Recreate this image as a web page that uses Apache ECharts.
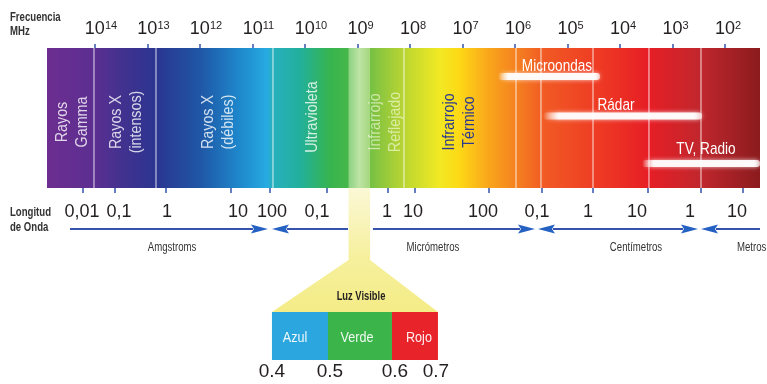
<!DOCTYPE html>
<html>
<head>
<meta charset="utf-8">
<title>Espectro electromagnético</title>
<script src="https://cdn.jsdelivr.net/npm/echarts@6/dist/echarts.min.js"></script>
<style>
  html, body { margin: 0; padding: 0; background: #fff; }
  #chart { width: 767px; height: 384px; }
</style>
</head>
<body>
<div id="chart"></div>
<script>
// eje x: exponente de la frecuencia en MHz (10^n), invertido
const freqExponents = [14, 13, 12, 11, 10, 9, 8, 7, 6, 5, 4, 3, 2]
const spectrumRange = [14.914, 1.333]

const bandNames = ['Rayos\nGamma', 'Rayos X\n(intensos)', 'Rayos X\n(débiles)', 'Ultravioleta', 'Infrarrojo\nReflejado', 'Infrarrojo\nTérmico']
const bandCenters = [14.438, 13.41, 11.657, 9.867, 8.476, 7.067]
const bandDividers = [14.019, 12.838, 10.61, 8.114, 5.981, 5.505, 4.514, 3.448, 2.457]

const radioNames = ['Microondas', 'Rádar', 'TV, Radio']
const radioStart = [6.324, 5.467, 3.581]
const radioEnd = [4.381, 2.438, 1.333]
const radioLabelPos = [5.2, 4.076, 2.362]

const waveLabels = ['0,01', '0,1', '1', '10', '100', '0,1', '1', '10', '100', '0,1', '1', '10', '1', '10']
const waveLabelPos = [14.248, 13.543, 12.629, 11.276, 10.629, 9.771, 8.438, 7.943, 6.61, 5.581, 4.61, 3.676, 2.667, 1.771]
const waveTickPos = [14.234, 13.619, 12.648, 11.415, 10.667, 9.587, 8.419, 7.905, 6.495, 5.486, 4.514, 3.467, 2.457, 1.657]

const unitNames = ['Amgstroms', 'Micrómetros', 'Centímetros', 'Metros']
const unitPos = [12.533, 7.562, 3.695, 1.771]
const arrowFrom = [14.476, 10.629, 8.705, 5.562, 2.457]
const arrowTo = [10.705, 9.181, 5.619, 2.514, 1.333]
const arrowHeads = [[0, 1], [1, 0], [0, 1], [1, 1], [1, 0]]

const visibleBand = [9.17, 8.76]
const visibleNames = ['Azul', 'Verde', 'Rojo']
const visibleEdges = [10.629, 9.562, 8.343, 7.467]
const visibleLabelPos = [10.19, 9.01, 7.829]
const visibleTicks = ['0.4', '0.5', '0.6', '0.7']
const visibleTickPos = [10.629, 9.524, 8.286, 7.505]
const visibleTitlePos = 8.933

// filas (alto de cada rejilla)
const BAR_H = 140
const LOW_H = 196
const ROW = {
  band: 74, ultra: 69,
  radioLabel: [18, 57, 101], radioBar: [28.5, 68, 115.5],
  wave: 24, arrow: 41, unit: 60,
  stripEnd: 72, boxTop: 124, boxBottom: 172, boxLabel: 150, visTick: 184, luz: 109
}

const NARROW = '"Liberation Sans Narrow", "Liberation Sans", Arial, sans-serif'
const SANS = '"Liberation Sans", Arial, sans-serif'
const BLUE = '#3553ad'
const SQUEEZE = 0.84

const chart = echarts.init(document.getElementById('chart'), null, { renderer: 'canvas' })

function textSeries(grid, texts, xs, ys, style, opts) {
  opts = opts || {}
  return {
    type: 'custom',
    xAxisIndex: grid,
    yAxisIndex: grid,
    silent: true,
    z: 20,
    data: xs.map((x, i) => [x, Array.isArray(ys) ? ys[i] : ys]),
    renderItem(params, api) {
      const p = api.coord([api.value(0), api.value(1)])
      const st = Object.assign({
        text: texts[params.dataIndex],
        align: 'center',
        verticalAlign: 'middle'
      }, style)
      if (opts.fills) st.fill = opts.fills[params.dataIndex]
      return {
        type: 'text',
        x: p[0],
        y: p[1],
        rotation: opts.rotation || 0,
        scaleX: opts.scaleX || 1,
        style: st
      }
    }
  }
}

const spectrumStops = [
  [0, '#6c2d90'], [0.066, '#5c2f91'], [0.102, '#44318f'], [0.152, '#2b3590'],
  [0.214, '#1f56a5'], [0.27, '#1e88cc'], [0.309, '#27aae1'], [0.316, '#27b0bf'],
  [0.355, '#22b09c'], [0.397, '#37b44e'], [0.432, '#4cb848'], [0.467, '#8cc63f'],
  [0.509, '#c4d92e'], [0.55, '#f1e924'], [0.578, '#fdd916'], [0.62, '#f9a51b'],
  [0.657, '#f58220'], [0.698, '#f15a24'], [0.775, '#ee3a24'], [0.845, '#e61e25'],
  [0.915, '#c1272d'], [1, '#8b1b1e']
].map(s => ({ offset: s[0], color: s[1] }))

const bandFills = ['rgba(255,255,255,0.8)', 'rgba(255,255,255,0.8)', 'rgba(255,255,255,0.8)',
  'rgba(255,255,255,0.8)', 'rgba(255,255,235,0.6)', '#2b3990']

const series = [
  // barra del espectro
  {
    type: 'custom', xAxisIndex: 0, yAxisIndex: 0, silent: true, z: 1,
    data: [spectrumRange],
    renderItem(params, api) {
      const a = api.coord([api.value(0), 0])
      const b = api.coord([api.value(1), BAR_H])
      return {
        type: 'rect',
        shape: { x: a[0], y: a[1], width: b[0] - a[0], height: b[1] - a[1] },
        style: { fill: new echarts.graphic.LinearGradient(0, 0, 1, 0, spectrumStops) }
      }
    }
  },
  // franja visible dentro de la barra
  {
    type: 'custom', xAxisIndex: 0, yAxisIndex: 0, silent: true, z: 2,
    data: [visibleBand],
    renderItem(params, api) {
      const a = api.coord([api.value(0), 0])
      const b = api.coord([api.value(1), BAR_H])
      return {
        type: 'rect',
        shape: { x: a[0], y: a[1], width: b[0] - a[0], height: b[1] - a[1] },
        style: {
          fill: new echarts.graphic.LinearGradient(0, 0, 1, 0, [
            { offset: 0, color: 'rgba(245,250,215,0.4)' },
            { offset: 0.5, color: 'rgba(245,250,215,0.65)' },
            { offset: 1, color: 'rgba(245,250,215,0.4)' }
          ])
        }
      }
    }
  },
  // divisiones blancas
  {
    type: 'custom', xAxisIndex: 0, yAxisIndex: 0, silent: true, z: 3,
    data: bandDividers.map(x => [x]),
    renderItem(params, api) {
      const a = api.coord([api.value(0), 0])
      const b = api.coord([api.value(0), BAR_H])
      return {
        type: 'line',
        shape: { x1: a[0], y1: a[1], x2: b[0], y2: b[1] },
        style: { stroke: 'rgba(255,255,255,0.7)', lineWidth: 1.2 }
      }
    }
  },
  // barras de microondas, rádar y TV
  {
    type: 'custom', xAxisIndex: 0, yAxisIndex: 0, silent: true, z: 4,
    data: radioStart.map((x, i) => [x, radioEnd[i], ROW.radioBar[i]]),
    renderItem(params, api) {
      const a = api.coord([api.value(0), api.value(2)])
      const b = api.coord([api.value(1), api.value(2)])
      return {
        type: 'rect',
        shape: { x: a[0], y: a[1] - 3.5, width: b[0] - a[0], height: 7, r: 3 },
        style: {
          fill: new echarts.graphic.LinearGradient(0, 0, 1, 0, [
            { offset: 0, color: 'rgba(255,255,255,0)' },
            { offset: 0.1, color: 'rgba(255,255,255,0.9)' },
            { offset: 0.95, color: 'rgba(255,255,255,0.95)' },
            { offset: 1, color: 'rgba(255,255,255,0.6)' }
          ]),
          shadowBlur: 4,
          shadowColor: 'rgba(255,255,255,0.8)'
        }
      }
    }
  },
  textSeries(0, radioNames, radioLabelPos, ROW.radioLabel,
    { fill: '#fff', fontSize: 17, fontFamily: NARROW }, { scaleX: 0.8 }),
  textSeries(0, bandNames, bandCenters,
    bandCenters.map((x, i) => i === 3 ? ROW.ultra : ROW.band),
    { fontSize: 17, fontFamily: NARROW, lineHeight: 20 },
    { rotation: Math.PI / 2, scaleX: SQUEEZE, fills: bandFills }),

  // franja amarilla y trapecio de la luz visible
  {
    type: 'custom', xAxisIndex: 1, yAxisIndex: 1, silent: true, z: 1,
    data: [[visibleBand[0], visibleBand[1], visibleEdges[0], visibleEdges[3]]],
    renderItem(params, api) {
      const pts = [
        api.coord([api.value(0), 0]),
        api.coord([api.value(1), 0]),
        api.coord([api.value(1), ROW.stripEnd]),
        api.coord([api.value(3), ROW.boxTop]),
        api.coord([api.value(2), ROW.boxTop]),
        api.coord([api.value(0), ROW.stripEnd])
      ]
      return {
        type: 'polygon',
        shape: { points: pts },
        style: {
          fill: new echarts.graphic.LinearGradient(0, 0, 0, 1, [
            { offset: 0, color: '#fbf8d6' },
            { offset: 0.55, color: '#f6f09e' },
            { offset: 1, color: '#f4ec86' }
          ])
        }
      }
    }
  },
  // cajas azul / verde / rojo
  {
    type: 'custom', xAxisIndex: 1, yAxisIndex: 1, silent: true, z: 2,
    data: visibleNames.map((n, i) => [visibleEdges[i], visibleEdges[i + 1]]),
    renderItem(params, api) {
      const colors = ['#2ba6de', '#3bb54a', '#e8232a']
      const a = api.coord([api.value(0), ROW.boxTop])
      const b = api.coord([api.value(1), ROW.boxBottom])
      return {
        type: 'rect',
        shape: { x: a[0], y: a[1], width: b[0] - a[0], height: b[1] - a[1] },
        style: { fill: colors[params.dataIndex] }
      }
    }
  },
  textSeries(1, visibleNames, visibleLabelPos, ROW.boxLabel,
    { fill: 'rgba(255,255,255,0.92)', fontSize: 15, fontFamily: NARROW }, { scaleX: SQUEEZE }),
  textSeries(1, ['Luz Visible'], [visibleTitlePos], ROW.luz,
    { fill: '#231f20', fontSize: 12, fontWeight: 'bold', fontFamily: NARROW }, { scaleX: 0.78 }),
  textSeries(1, visibleTicks, visibleTickPos, ROW.visTick,
    { fill: '#231f20', fontSize: 19, fontFamily: SANS }),

  // flechas de longitud de onda
  {
    type: 'custom', xAxisIndex: 1, yAxisIndex: 1, silent: true, z: 3,
    data: arrowFrom.map((x, i) => [x, arrowTo[i], arrowHeads[i][0], arrowHeads[i][1]]),
    renderItem(params, api) {
      const a = api.coord([api.value(0), ROW.arrow])
      const b = api.coord([api.value(1), ROW.arrow])
      const y = a[1]
      const L = 17, H = 4.5
      const children = [{
        type: 'line',
        shape: { x1: a[0] + (api.value(2) ? L - 2 : 0), y1: y, x2: b[0] - (api.value(3) ? L - 2 : 0), y2: y },
        style: { stroke: BLUE, lineWidth: 2 }
      }]
      if (api.value(2)) {
        children.push({ type: 'polygon', shape: { points: [[a[0], y], [a[0] + L, y - H], [a[0] + L - 3, y], [a[0] + L, y + H]] }, style: { fill: '#2461c2' } })
      }
      if (api.value(3)) {
        children.push({ type: 'polygon', shape: { points: [[b[0], y], [b[0] - L, y - H], [b[0] - L + 3, y], [b[0] - L, y + H]] }, style: { fill: '#2461c2' } })
      }
      return { type: 'group', children }
    }
  },
  textSeries(1, waveLabels, waveLabelPos, ROW.wave,
    { fill: '#231f20', fontSize: 18, fontFamily: SANS }),
  textSeries(1, unitNames.slice(0, 3), unitPos.slice(0, 3), ROW.unit,
    { fill: '#333', fontSize: 12, fontFamily: NARROW }, { scaleX: 0.8 }),
  textSeries(1, unitNames.slice(3), unitPos.slice(3), ROW.unit,
    { fill: '#333', fontSize: 12, fontFamily: NARROW, align: 'left' }, { scaleX: 0.8 })
]

chart.setOption({
  animation: false,
  backgroundColor: '#fff',
  graphic: [
    { type: 'text', left: 10, top: 11, scaleX: 0.8, style: { text: 'Frecuencia\nMHz', fill: '#333', fontSize: 12, lineHeight: 14, fontFamily: NARROW, fontWeight: 'bold' } },
    { type: 'text', left: 10, top: 205, scaleX: 0.8, style: { text: 'Longitud\nde Onda', fill: '#333', fontSize: 12, lineHeight: 15, fontFamily: NARROW, fontWeight: 'bold' } }
  ],
  grid: [
    { left: 47, right: 7, top: 48, height: BAR_H },
    { left: 47, right: 7, top: 48 + BAR_H, height: LOW_H }
  ],
  xAxis: [
    {
      gridIndex: 0, type: 'value', inverse: true, position: 'top',
      min: spectrumRange[1], max: spectrumRange[0],
      axisLine: { show: false },
      splitLine: { show: false },
      axisTick: { show: true, customValues: freqExponents, length: 4, lineStyle: { color: BLUE, width: 1.5 } },
      axisLabel: {
        customValues: freqExponents,
        margin: 10,
        formatter: v => String(v).length === 2 ? `{b2|10}{s|${v}}` : `{b1|10}{s|${v}}`,
        rich: {
          b2: { fontSize: 18, fontFamily: SANS, color: '#231f20', lineHeight: 18, padding: [0, 0, 0, 12] },
          b1: { fontSize: 18, fontFamily: SANS, color: '#231f20', lineHeight: 18, padding: [0, 0, 0, 6] },
          s: { fontSize: 11, fontFamily: SANS, color: '#231f20', lineHeight: 11, verticalAlign: 'top' }
        }
      }
    },
    {
      gridIndex: 1, type: 'value', inverse: true, position: 'top',
      min: spectrumRange[1], max: spectrumRange[0],
      axisLine: { show: false },
      splitLine: { show: false },
      axisTick: { show: true, inside: true, customValues: waveTickPos, length: 5, lineStyle: { color: BLUE, width: 1.5 } },
      axisLabel: { show: false }
    }
  ],
  yAxis: [
    { gridIndex: 0, type: 'value', min: 0, max: BAR_H, inverse: true, show: false },
    { gridIndex: 1, type: 'value', min: 0, max: LOW_H, inverse: true, show: false }
  ],
  series
})
</script>
</body>
</html>
